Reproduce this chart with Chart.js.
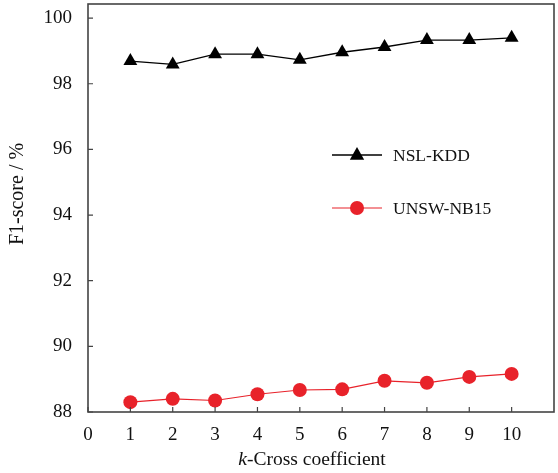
<!DOCTYPE html>
<html>
<head>
<meta charset="utf-8">
<script src="https://cdn.jsdelivr.net/npm/chart.js@4"></script>
<style>
  html, body { margin: 0; padding: 0; background: #fff; }
  #wrap { width: 558px; height: 473px; }
</style>
</head>
<body>
<div id="wrap"><canvas id="c" width="558" height="473"></canvas></div>
<script>
// === DONNÉES ===
const kValues = [1, 2, 3, 4, 5, 6, 7, 8, 9, 10];
const nslKdd = [98.69, 98.59, 98.90, 98.90, 98.73, 98.96, 99.12, 99.33, 99.33, 99.40];
const unswNb15 = [88.30, 88.40, 88.35, 88.54, 88.67, 88.69, 88.95, 88.89, 89.07, 89.16];
const xTicks = [0, 1, 2, 3, 4, 5, 6, 7, 8, 9, 10];
const yTicks = [88, 90, 92, 94, 96, 98, 100];

const serif = "'Liberation Serif', 'Times New Roman', serif";

// === CADRE + GRADUATIONS INTÉRIEURES + TITRES + LÉGENDE ===
const framePlugin = {
  id: "frame",
  afterDraw(chart) {
    const { ctx, chartArea: a, scales } = chart;
    ctx.save();
    ctx.strokeStyle = "#444";
    ctx.lineWidth = 1.6;
    ctx.strokeRect(a.left, a.top, a.right - a.left, a.bottom - a.top);

    ctx.lineWidth = 1.2;
    ctx.beginPath();
    xTicks.forEach(v => {
      const x = scales.x.getPixelForValue(v);
      ctx.moveTo(x, a.bottom);
      ctx.lineTo(x, a.bottom - 5);
    });
    yTicks.forEach(v => {
      const y = scales.y.getPixelForValue(v);
      ctx.moveTo(a.left, y);
      ctx.lineTo(a.left + 5, y);
    });
    ctx.stroke();

    // titre axe X (k en italique)
    ctx.fillStyle = "#111";
    ctx.textBaseline = "middle";
    const fIt = "italic 19.5px " + serif, fUp = "19.5px " + serif;
    ctx.font = fIt;
    const wK = ctx.measureText("k").width;
    ctx.font = fUp;
    const wR = ctx.measureText("-Cross coefficient").width;
    let x0 = 312 - (wK + wR) / 2;
    ctx.textAlign = "left";
    ctx.font = fIt;
    ctx.fillText("k", x0, 460);
    ctx.font = fUp;
    ctx.fillText("-Cross coefficient", x0 + wK, 460);

    // titre axe Y
    ctx.save();
    ctx.translate(18, 194);
    ctx.rotate(-Math.PI / 2);
    ctx.textAlign = "center";
    ctx.font = "20px " + serif;
    ctx.fillText("F1-score / %", 0, 0);
    ctx.restore();

    // légende
    const items = chart.data.datasets;
    const lx = 332, ly = [155, 208];
    items.forEach((ds, i) => {
      const y = ly[i];
      ctx.strokeStyle = ds.borderColor;
      ctx.lineWidth = ds.borderWidth;
      ctx.beginPath();
      ctx.moveTo(lx, y);
      ctx.lineTo(lx + 50, y);
      ctx.stroke();
      ctx.fillStyle = ds.pointBackgroundColor;
      ctx.beginPath();
      if (ds.pointStyle === "triangle") {
        const r = ds.pointRadius;
        ctx.moveTo(lx + 25, y - r);
        ctx.lineTo(lx + 25 + r * 0.9, y + r * 0.6);
        ctx.lineTo(lx + 25 - r * 0.9, y + r * 0.6);
        ctx.closePath();
      } else {
        ctx.arc(lx + 25, y, ds.pointRadius, 0, Math.PI * 2);
      }
      ctx.fill();
      ctx.fillStyle = "#111";
      ctx.font = "17.5px " + serif;
      ctx.textAlign = "left";
      ctx.fillText(ds.label, lx + 61, y + 1);
    });
    ctx.restore();
  }
};

const noPad = s => {
  s.paddingTop = 0;
  s.paddingBottom = 0;
  s.paddingLeft = 0;
  s.paddingRight = 0;
};

new Chart(document.getElementById("c"), {
  type: "scatter",
  data: {
    datasets: [
      {
        label: "NSL-KDD",
        data: kValues.map((k, i) => ({ x: k, y: nslKdd[i] })),
        showLine: true,
        borderColor: "#000",
        borderWidth: 1.3,
        pointStyle: "triangle",
        pointRadius: 8,
        pointBackgroundColor: "#000",
        pointBorderWidth: 0
      },
      {
        label: "UNSW-NB15",
        data: kValues.map((k, i) => ({ x: k, y: unswNb15[i] })),
        showLine: true,
        borderColor: "#e8222a",
        borderWidth: 1.2,
        pointStyle: "circle",
        pointRadius: 7,
        pointBackgroundColor: "#e8222a",
        pointBorderWidth: 0
      }
    ]
  },
  options: {
    responsive: false,
    animation: false,
    clip: false,
    layout: { autoPadding: false, padding: { top: 4, right: 4, left: 0, bottom: 0 } },
    plugins: { legend: { display: false }, tooltip: { enabled: false } },
    scales: {
      x: {
        type: "linear",
        min: 0,
        max: 11,
        afterBuildTicks: s => { s.ticks = xTicks.map(v => ({ value: v })); },
        afterFit: s => { s.height = 61; noPad(s); },
        grid: { display: false },
        border: { display: false },
        ticks: { color: "#111", font: { family: serif, size: 19 }, padding: 4 }
      },
      y: {
        min: 88,
        max: 100.43,
        afterBuildTicks: s => { s.ticks = yTicks.map(v => ({ value: v })); },
        afterFit: s => { s.width = 88; noPad(s); },
        grid: { display: false },
        border: { display: false },
        ticks: { color: "#111", font: { family: serif, size: 19 }, padding: 8 }
      }
    }
  },
  plugins: [framePlugin]
});
</script>
</body>
</html>
